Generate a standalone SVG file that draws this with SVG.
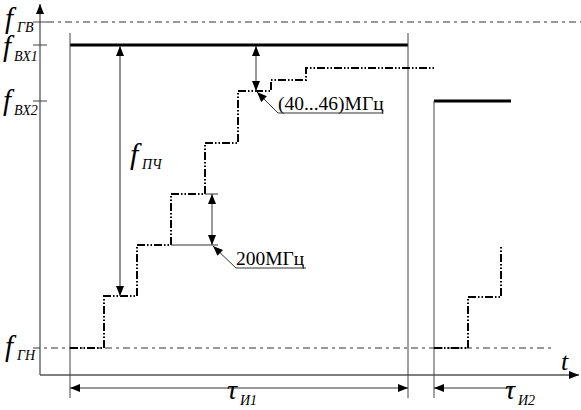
<svg xmlns="http://www.w3.org/2000/svg" width="581" height="410" viewBox="0 0 581 410">
<style>
.ax{stroke:#555;stroke-width:1.3;fill:none}
.thin{stroke:#444;stroke-width:1;fill:none}
.dash{stroke:#333;stroke-width:1;fill:none;stroke-dasharray:7 4 3 4}
.thick{stroke:#000;stroke-width:3;fill:none}
.step{stroke:#000;stroke-width:2;fill:none;stroke-dasharray:8 2 1.5 2 1.5 2}
.dim{stroke:#333;stroke-width:1;fill:none}
.f{font-family:"Liberation Serif",serif;font-style:italic;fill:#000}
.lbl{font-family:"Liberation Serif",serif;font-size:19.5px;fill:#000}
</style>
<defs>
<marker id="ah" viewBox="0 0 10 10" refX="10" refY="5" markerWidth="10" markerHeight="10" markerUnits="userSpaceOnUse" orient="auto-start-reverse">
<path d="M0,1 L10,5 L0,9 Z" fill="#000"/>
</marker>
</defs>
<g id="axes">
<line class="ax" x1="40" y1="375" x2="40" y2="4" marker-end="url(#ah)"/>
<line class="ax" x1="40" y1="375" x2="579" y2="375" marker-end="url(#ah)"/>
<line class="thin" x1="33" y1="22" x2="47" y2="22"/>
<line class="thin" x1="33" y1="45" x2="47" y2="45"/>
<line class="thin" x1="33" y1="101" x2="47" y2="101"/>
</g>
<g id="levels">
<line class="dash" x1="47" y1="22" x2="581" y2="22"/>
<line class="dash" x1="33" y1="348" x2="551" y2="348"/>
<line class="thick" x1="70" y1="45" x2="408" y2="45"/>
<line class="thick" x1="434" y1="101" x2="511" y2="101"/>
</g>
<g id="pulses">
<line class="thin" x1="70" y1="33" x2="70" y2="398"/>
<line class="thin" x1="408" y1="33" x2="408" y2="398"/>
<line class="thin" x1="434" y1="101" x2="434" y2="398"/>
</g>
<g id="staircase1">
<path class="step" d="M70,348 H104 V296 H137 V245 H171 V194 H205 V143 H238 V91 H271 V80 H306 V68 H434"/>
</g>
<g id="staircase2">
<path class="step" d="M434,348 H468 V297 H501 V246"/>
</g>
<g id="connectors">
<line class="ax" x1="120" y1="46" x2="120" y2="296" marker-start="url(#ah)" marker-end="url(#ah)"/>
<line class="dim" x1="205" y1="194" x2="218" y2="194"/>
<line class="dim" x1="171" y1="245" x2="218" y2="245"/>
<line class="dim" x1="212" y1="194" x2="212" y2="245" marker-start="url(#ah)" marker-end="url(#ah)"/>
<polyline class="dim" points="306,268 236,268 213,246" marker-end="url(#ah)"/>
<line class="dim" x1="256" y1="46" x2="256" y2="91" marker-start="url(#ah)" marker-end="url(#ah)"/>
<polyline class="dim" points="383,113 278,113 257,92" marker-end="url(#ah)"/>
<line class="dim" x1="70" y1="388" x2="408" y2="388" marker-start="url(#ah)" marker-end="url(#ah)"/>
<line class="dim" x1="434" y1="388" x2="513" y2="388" marker-start="url(#ah)"/>
</g>
<g id="labels">
<text class="f" x="5" y="28" font-size="29">f</text><text class="f" x="17" y="32" font-size="14">ГВ</text>
<text class="f" x="3" y="56" font-size="29">f</text><text class="f" x="14" y="61" font-size="14">ВХ1</text>
<text class="f" x="3" y="110" font-size="29">f</text><text class="f" x="14" y="115" font-size="14">ВХ2</text>
<text class="f" x="5" y="356" font-size="29">f</text><text class="f" x="17" y="360" font-size="14">ГН</text>
<text class="f" x="130" y="164" font-size="30">f</text><text class="f" x="142" y="169" font-size="14">ПЧ</text>
<text class="f" x="561" y="370" font-size="26">t</text>
<text class="f" x="227" y="399" font-size="28">τ</text><text class="f" x="240" y="405" font-size="14">И1</text>
<text class="f" x="505" y="399" font-size="28">τ</text><text class="f" x="518" y="405" font-size="14">И2</text>
<text class="lbl" x="236" y="265">200МГц</text>
<text class="lbl" x="278" y="110">(40...46)МГц</text>
</g>
</svg>
